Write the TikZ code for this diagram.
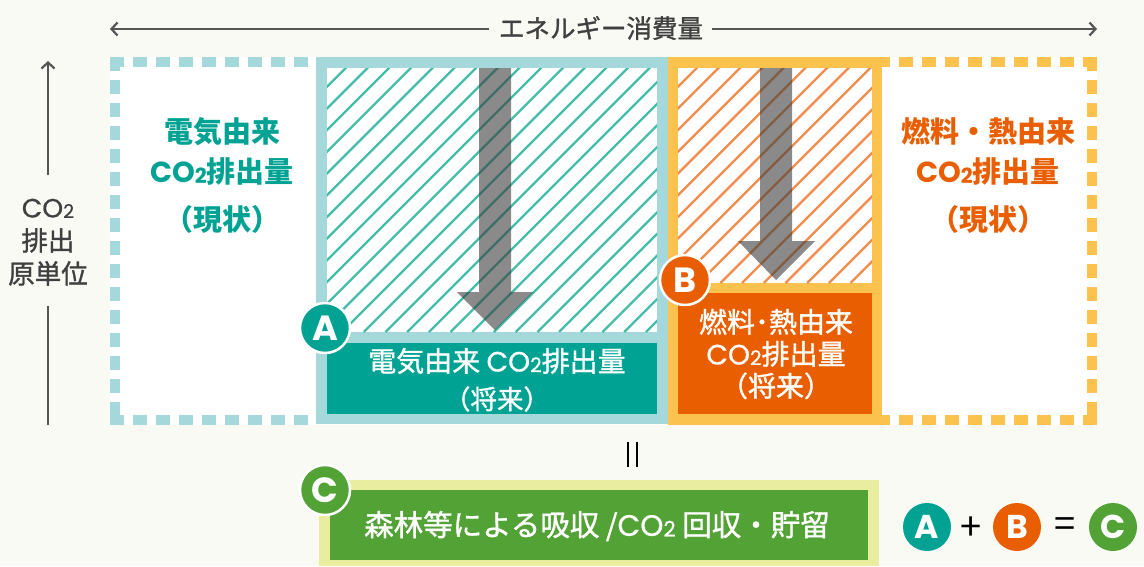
\documentclass[tikz,border=0pt]{standalone}
\usepackage{fontspec}
\setmainfont{Noto Sans CJK JP}
\newfontfamily\medfont{Noto Sans CJK JP}[FakeBold=1.2]
\newfontfamily\badgefont{Poppins}
\newfontfamily\comed{Poppins}[FakeBold=0.6]
\usetikzlibrary{arrows.meta,shadows}
\definecolor{bg}{HTML}{FAFAF5}
\definecolor{tealD}{HTML}{00A393}
\definecolor{tealL}{HTML}{A4D8DA}
\definecolor{tealH}{HTML}{45BBAA}
\definecolor{orD}{HTML}{E95E00}
\definecolor{yelL}{HTML}{FBC34D}
\definecolor{orH}{HTML}{F08C4C}
\definecolor{grnD}{HTML}{52A236}
\definecolor{grnL}{HTML}{E9ED9F}
\definecolor{txtG}{HTML}{404040}
\definecolor{axisG}{HTML}{555555}
\definecolor{arrG}{HTML}{3C3C3C}
\newcommand\cotwo{\raisebox{0pt}[0.72em][0pt]{\comed CO\raisebox{-0.02em}{\scalebox{0.72}{2}}}}
\newcommand\cotwob{\raisebox{0pt}[0.72em][0pt]{\badgefont CO\raisebox{-0.02em}{\scalebox{0.72}{2}}}}
\tikzset{
  badge/.style={circle, draw=white, line width=2.5pt, minimum size=50pt, inner sep=0pt,
    text=white, font=\badgefont\bfseries\fontsize{35}{35}\selectfont,
    drop shadow={opacity=0.25, shadow xshift=1pt, shadow yshift=-1pt}},
  eqbadge/.style={circle, minimum size=48pt, inner sep=0pt, text=white,
    font=\badgefont\bfseries\fontsize{33}{33}\selectfont},
  axisline/.style={draw=axisG, line width=2.2pt},
  axisarrow/.style={axisline, -{Straight Barb[length=6pt,width=13pt]}},
  dashT/.style={draw=tealL, line width=10pt, dash pattern=on 14pt off 9pt},
  dashO/.style={draw=yelL, line width=10pt, dash pattern=on 14pt off 9pt},
  hatchT/.style={draw=tealH, line width=2.3pt},
  hatchO/.style={draw=orH, line width=2.3pt},
  bigarrow/.style={fill=arrG, fill opacity=0.6},
  colorlbl/.style={align=center, font=\bfseries\fontsize{29}{40}\selectfont, inner sep=0pt},
  whitelbl/.style={align=center, text=white, inner sep=0pt},
  axislbl/.style={align=center, text=txtG, font=\medfont\fontsize{26.5}{33}\selectfont, inner sep=0pt},
}
\begin{document}
\begin{tikzpicture}[x=1pt,y=-1pt]
\useasboundingbox (0,0) rectangle (1144,566);
\fill[bg] (0,0) rectangle (1144,566);
\fill[white] (110,57) rectangle (1097,425);
% dashed outer borders
\draw[dashT] (110,62) -- (316,62);
\draw[dashT] (115,57) -- (115,425);
\draw[dashT] (110,419.5) -- (316,419.5);
\draw[dashO] (1097,62) -- (882,62);
\draw[dashO] (1092,57) -- (1092,425);
\draw[dashO] (1097,419.5) -- (882,419.5);
% teal box
\fill[tealL] (316,57) rectangle (668,424);
\fill[white] (327,68) rectangle (657,332);
\begin{scope}
\clip (327,68) rectangle (657,332);
\foreach \i in {0,...,30} \draw[hatchT] ({60+\i*21.7},332) -- ++(270,-270);
\end{scope}
\fill[tealD] (327,343) rectangle (657,414);
% orange box
\fill[yelL] (668,57) rectangle (882,425);
\fill[white] (678,68) rectangle (872,283);
\begin{scope}
\clip (678,68) rectangle (872,283);
\foreach \i in {0,...,21} \draw[hatchO] ({460+\i*21.7},283) -- ++(220,-220);
\end{scope}
\fill[orD] (678,293) rectangle (872,414);
% grey arrows
\fill[bigarrow] (479,68) -- (511,68) -- (511,292) -- (533,292) -- (495,330) -- (457,292) -- (479,292) -- cycle;
\fill[bigarrow] (760,68) -- (792,68) -- (792,241) -- (815,241) -- (776,280) -- (738,241) -- (760,241) -- cycle;
% labels current
\node[colorlbl, text=tealD] (elec) at (222,176) {電気由来\\\cotwob 排出量\\[8pt]（現状）};
\node[colorlbl, text=orD] (fuel) at (988,176) {燃料・熱由来\\\cotwob 排出量\\[8pt]（現状）};
% future labels
\node[whitelbl, font=\medfont\fontsize{28}{31}\selectfont] (elecF) at (497,361) {電気由来 \cotwo 排出量};
\node[whitelbl, font=\medfont\fontsize{26.5}{31}\selectfont] (elecF2) at (497,399) {（将来）};
\node[whitelbl, font=\medfont\fontsize{28}{32}\selectfont] (fuelF) at (776,354) {燃料･熱由来\\\cotwo 排出量\\（将来）};
% green box
\fill[grnL] (319,480) rectangle (879,566);
\fill[grnD] (330,490) rectangle (868,560);
\node[whitelbl, font=\medfont\fontsize{29.5}{30}\selectfont] (absorb) at (597,526) {森林等による吸収 /\cotwo\ 回収・貯留};
% equals sign between
\draw[black, line width=2.3pt] (628,442) -- (628,467) (637,442) -- (637,467);
% badges
\node[badge, fill=tealD] (A) at (325,328) {A};
\node[badge, fill=orD] (B) at (685,280) {B};
\node[badge, fill=grnD] (C) at (325,490) {C};
% equation
\node[eqbadge, fill=tealD] (eA) at (927,527) {A};
\node[font=\fontsize{38}{38}\selectfont, inner sep=0pt] (plus) at (971,529) {+};
\node[eqbadge, fill=orD] (eB) at (1017,527) {B};
\node[font=\fontsize{38}{38}\selectfont, inner sep=0pt] (eqs) at (1065,528) {=};
\node[eqbadge, fill=grnD] (eC) at (1113,527) {C};
% top axis
\node[text=txtG, font=\medfont\fontsize{25.5}{25}\selectfont, inner sep=0pt] (energy) at (601,28) {エネルギー消費量};
\coordinate (hl) at (110,29);
\coordinate (hr) at (1097,29);
\coordinate (h1) at (489,29);
\coordinate (h2) at (712,29);
\draw[axisarrow] (h1) -- (hl);
\draw[axisarrow] (h2) -- (hr);
% left axis
\node[axislbl] (unit) at (48,242) {\cotwo\\排出\\原単位};
\coordinate (vt) at (48,61);
\coordinate (vb) at (48,425);
\coordinate (v1) at (48,175);
\coordinate (v2) at (48,306);
\draw[axisarrow] (v1) -- (vt);
\draw[axisline] (v2) -- (vb);
\end{tikzpicture}
\end{document}
